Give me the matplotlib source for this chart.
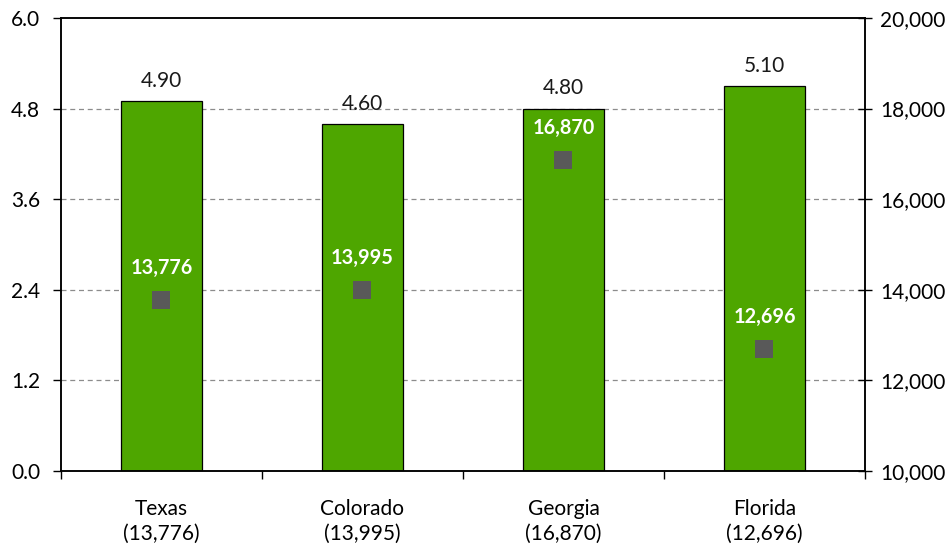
import matplotlib
matplotlib.use("Agg")
import matplotlib.pyplot as plt
from matplotlib.ticker import FuncFormatter

plt.rcParams['font.family'] = ['Lato', 'DejaVu Sans']

states = ["Texas", "Colorado", "Georgia", "Florida"]
rates = [4.90, 4.60, 4.80, 5.10]
counts = [13776, 13995, 16870, 12696]

left_ticks = [0.0, 1.2, 2.4, 3.6, 4.8, 6.0]
right_ticks = [10000, 12000, 14000, 16000, 18000, 20000]

bar_color = "#4ea600"
marker_color = "#595959"
fs = 15

fig = plt.figure(figsize=(9.5, 5.48), dpi=100)
ax = fig.add_axes([0.0642, 0.1405, 0.8463, 0.8267])
ax2 = ax.twinx()

x = list(range(len(states)))

ax.set_zorder(1)
ax2.set_zorder(2)
ax2.patch.set_visible(False)

# dashed grid lines behind bars
for v in left_ticks[1:-1]:
    ax.axhline(v, color="#8c8c8c", lw=0.9, ls=(0, (4, 3)), zorder=0)

ax.bar(x, rates, width=0.4, color=bar_color, edgecolor="black",
       linewidth=0.9, zorder=2)
for xi, r in zip(x, rates):
    ax.annotate(f"{r:.2f}", (xi, r), xytext=(0, 14.5), textcoords="offset points",
                ha="center", va="center", fontsize=fs, color="#1a1a1a")

ax.set_xlim(-0.5, 3.5)
ax.set_ylim(0, 6.0)
ax.set_yticks(left_ticks)
ax.yaxis.set_major_formatter(FuncFormatter(lambda v, p: f"{v:.1f}"))
ax.tick_params(axis="y", direction="out", length=6, width=1, labelsize=fs,
               pad=9, colors="black")

# category boundaries as major ticks, labels on minor ticks
ax.set_xticks([-0.5, 0.5, 1.5, 2.5, 3.5])
ax.set_xticklabels([])
ax.set_xticks(x, minor=True)
ax.set_xticklabels([f"{s}\n({c:,})" for s, c in zip(states, counts)],
                   minor=True, fontsize=fs, linespacing=1.32)
ax.tick_params(axis="x", which="major", direction="out", length=6, width=1)
ax.tick_params(axis="x", which="minor", length=0, pad=20)

for s in ax.spines.values():
    s.set_linewidth(1.1)
    s.set_color("black")

ax2.set_ylim(10000, 20000)
ax2.set_yticks(right_ticks)
ax2.yaxis.set_major_formatter(FuncFormatter(lambda v, p: f"{int(v):,}"))
ax2.tick_params(axis="y", direction="inout", length=10, width=1,
                labelsize=fs, pad=6)
for s in ax2.spines.values():
    s.set_linewidth(1.1)

ax2.scatter(x, counts, marker="s", s=180, color=marker_color, zorder=3,
            linewidths=0)
for xi, c in zip(x, counts):
    ax2.annotate(f"{c:,}", (xi, c), xytext=(0, 23), textcoords="offset points",
                 ha="center", va="center", fontsize=14.3, fontweight="bold",
                 color="white")

fig.savefig("out.png", dpi=100)
